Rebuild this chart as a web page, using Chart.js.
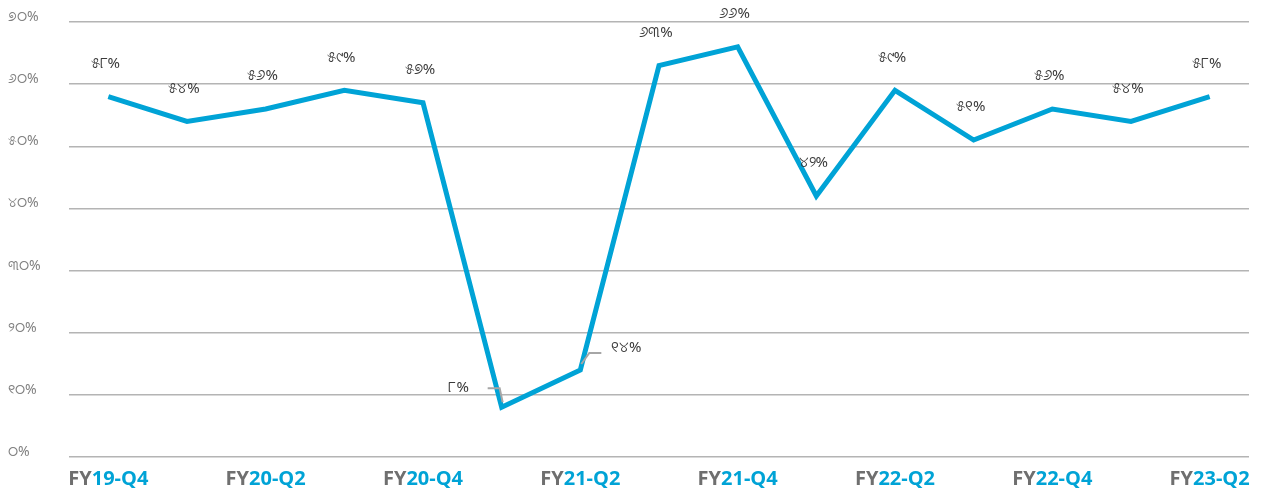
<!DOCTYPE html>
<html>
<head>
<meta charset="utf-8">
<script src="https://cdn.jsdelivr.net/npm/chart.js@4"></script>
<style>
  html, body { margin: 0; padding: 0; background: #fff; }
  #wrap { width: 1275px; height: 495px; }
</style>
</head>
<body>
<div id="wrap"><canvas id="graph_taux"></canvas></div>
<script>
// categories (one per quarter), only every other one is written under the axis
var trimestres = ['FY19-Q4', 'FY20-Q1', 'FY20-Q2', 'FY20-Q3', 'FY20-Q4', 'FY21-Q1', 'FY21-Q2', 'FY21-Q3',
                  'FY21-Q4', 'FY22-Q1', 'FY22-Q2', 'FY22-Q3', 'FY22-Q4', 'FY23-Q1', 'FY23-Q2'];
var etiquettes_x = ['FY19-Q4', '', 'FY20-Q2', '', 'FY20-Q4', '', 'FY21-Q2', '',
                    'FY21-Q4', '', 'FY22-Q2', '', 'FY22-Q4', '', 'FY23-Q2'];
var taux = [58, 54, 56, 59, 57, 8, 14, 63, 66, 42, 59, 51, 56, 54, 58];
var graduations = [0, 10, 20, 30, 40, 50, 60, 70];
var etiquettes_y = ['୦%', '୧୦%', '୨୦%', '୩୦%', '୪୦%', '୫୦%', '୬୦%', '୭୦%'];

var chiffres = ['୦', '୧', '୨', '୩', '୪', '୫', '୬', '୭', '୮', '୯'];
function odia(n) {
  return String(n).split('').map(function (c) { return chiffres[parseInt(c)]; }).join('');
}

var bleu = '#00a3d6';
var gris = '#6f6f6f';

var etiquettes = {
  id: 'etiquettes',
  afterDatasetsDraw: function (chart) {
    var ctx = chart.ctx;
    var pts = chart.getDatasetMeta(0).data;
    ctx.save();
    // leader lines for the two low points
    ctx.strokeStyle = '#a6a6a6';
    ctx.lineWidth = 2;
    var a = pts[5], b = pts[6];
    ctx.beginPath();
    ctx.moveTo(a.x - 14, a.y - 19); ctx.lineTo(a.x - 2, a.y - 19); ctx.lineTo(a.x + 1, a.y - 5);
    ctx.stroke();
    ctx.beginPath();
    ctx.moveTo(b.x + 1, b.y - 6); ctx.lineTo(b.x + 9, b.y - 17); ctx.lineTo(b.x + 21, b.y - 17);
    ctx.stroke();

    ctx.font = '15px "Noto Sans", sans-serif';
    ctx.fillStyle = '#3a3a3a';
    ctx.textAlign = 'center';
    ctx.textBaseline = 'middle';
    pts.forEach(function (p, i) {
      var dx = -3, dy = -33;
      if (i == 5) { dx = -43; dy = -20; }
      if (i == 6) { dx = 46; dy = -22; }
      ctx.fillText(odia(taux[i]) + '%', p.x + dx, p.y + dy);
    });

    // x labels : "FY" in grey, the rest in blue
    var sx = chart.scales.x;
    ctx.font = 'bold 20px "Open Sans", sans-serif';
    ctx.textAlign = 'left';
    etiquettes_x.forEach(function (lab, i) {
      if (!lab) return;
      var debut = lab.substring(0, 2), fin = lab.substring(2);
      var w1 = ctx.measureText(debut).width, w2 = ctx.measureText(fin).width;
      var x0 = sx.getPixelForValue(i) - (w1 + w2) / 2;
      ctx.fillStyle = gris;
      ctx.fillText(debut, x0, 479);
      ctx.fillStyle = bleu;
      ctx.fillText(fin, x0 + w1, 479);
    });
    ctx.restore();
  }
};

var ctx = document.getElementById('graph_taux').getContext('2d');
var Graph_taux = new Chart(ctx, {
  type: 'line',
  data: {
    labels: trimestres,
    datasets: [{
      data: taux,
      borderColor: bleu,
      borderWidth: 5,
      pointRadius: 0,
      tension: 0,
      fill: false
    }]
  },
  options: {
    responsive: true,
    maintainAspectRatio: false,
    animation: false,
    layout: { padding: { top: 22, right: 26, left: 8, bottom: 0 } },
    plugins: { legend: { display: false }, tooltip: { enabled: false } },
    scales: {
      x: {
        offset: true,
        grid: { display: false },
        border: { display: false },
        ticks: { display: false },
        afterFit: function (scale) { scale.height = 38; }
      },
      y: {
        min: 0,
        max: 70,
        afterBuildTicks: function (scale) {
          scale.ticks = graduations.map(function (v) { return { value: v }; });
        },
        grid: { color: '#b4b4b4', lineWidth: 1.5, drawTicks: false },
        border: { display: false },
        ticks: {
          crossAlign: 'far',
          padding: 0,
          labelOffset: -5,
          color: '#7f7f7f',
          font: { family: '"Noto Sans", sans-serif', size: 14 },
          callback: function (v, i) { return etiquettes_y[i]; }
        },
        afterFit: function (scale) { scale.width = 61; }
      }
    }
  },
  plugins: [etiquettes]
});
</script>
</body>
</html>
